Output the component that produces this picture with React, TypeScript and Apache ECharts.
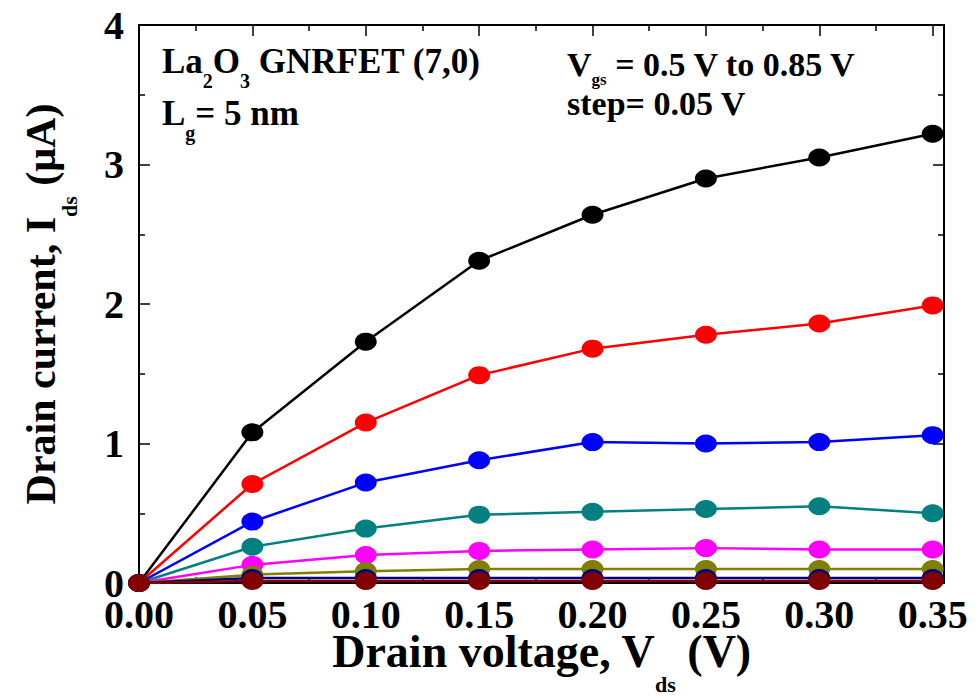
import React, { useEffect, useRef } from 'react';
import * as echarts from 'echarts';

// Drain voltage (V)
const vds = [0, 0.05, 0.1, 0.15, 0.2, 0.25, 0.3, 0.35];
// Gate voltages, top curve first
const vgsNames = ['Vgs = 0.85 V', 'Vgs = 0.80 V', 'Vgs = 0.75 V', 'Vgs = 0.70 V', 'Vgs = 0.65 V', 'Vgs = 0.60 V', 'Vgs = 0.55 V', 'Vgs = 0.50 V'];
// Drain current (uA)
const ids085 = [0, 1.08, 1.73, 2.31, 2.64, 2.9, 3.05, 3.22];
const ids080 = [0, 0.71, 1.15, 1.49, 1.68, 1.78, 1.86, 1.99];
const ids075 = [0, 0.44, 0.72, 0.88, 1.01, 1.0, 1.01, 1.06];
const ids070 = [0, 0.26, 0.39, 0.49, 0.51, 0.53, 0.55, 0.5];
const ids065 = [0, 0.13, 0.2, 0.23, 0.24, 0.25, 0.24, 0.24];
const ids060 = [0, 0.06, 0.085, 0.1, 0.1, 0.1, 0.1, 0.1];
const ids055 = [0, 0.035, 0.035, 0.035, 0.035, 0.035, 0.035, 0.035];
const ids050 = [0, 0.015, 0.015, 0.015, 0.015, 0.015, 0.015, 0.015];
const allIds = [ids085, ids080, ids075, ids070, ids065, ids060, ids055, ids050];
const colors = ['#000000', '#ff0000', '#0000ff', '#008080', '#ff00ff', '#808000', '#000080', '#800000'];

const FONT = '"Liberation Serif", "Times New Roman", serif';

export default function App() {
  const ref = useRef<HTMLDivElement>(null);
  useEffect(() => {
    if (!ref.current) return;
    const chart = echarts.init(ref.current, undefined, { renderer: 'svg' });
    const axisLine = { show: true, onZero: false, lineStyle: { color: '#000', width: 2 } };
    const tick = { show: true, inside: true, length: 11, lineStyle: { color: '#000', width: 1.5 } };
    const minor = { show: true, splitNumber: 2, length: 6, lineStyle: { color: '#000', width: 1.5 } };
    const labelFont = { fontFamily: FONT, fontWeight: 'bold' as const, fontSize: 40, color: '#000' };
    const xCommon = { type: 'value' as const, min: 0, max: 0.355, interval: 0.05, splitLine: { show: false }, axisLine, axisTick: tick, minorTick: { ...minor } };
    const yCommon = { type: 'value' as const, min: 0, max: 4, interval: 1, splitLine: { show: false }, axisLine, axisTick: tick, minorTick: { ...minor } };
    const bold = { fontFamily: FONT, fontWeight: 'bold' as const, fill: '#000' };
    chart.setOption({
      animation: false,
      backgroundColor: '#fff',
      grid: { left: 139, top: 25, width: 805, height: 558, containLabel: false, outerBoundsMode: 'none' },
      xAxis: [
        {
          ...xCommon,
          position: 'bottom',
          axisLabel: {
            ...labelFont,
            margin: 11,
            formatter: (v: number) => (Math.abs(v * 20 - Math.round(v * 20)) < 1e-6 ? v.toFixed(2) : ''),
          },
          name: 'Drain voltage, V{sub|ds} (V)',
          nameLocation: 'middle',
          nameGap: 24,
          nameMoveOverlap: false,
          nameTextStyle: {
            fontFamily: FONT, fontWeight: 'bold', fontSize: 46, color: '#000',
            rich: { sub: { fontFamily: FONT, fontWeight: 'bold', fontSize: 22, color: '#000', padding: [66, 0, 0, 0] } },
          },
        },
        { ...xCommon, position: 'top', axisLabel: { show: false } },
      ],
      yAxis: [
        {
          ...yCommon,
          position: 'left',
          axisLabel: { ...labelFont, margin: 15, formatter: (v: number) => String(v) },
          name: 'Drain current, I{sub|ds} (μA)',
          nameLocation: 'middle',
          nameGap: 59,
          nameRotate: 90,
          nameMoveOverlap: false,
          nameTextStyle: {
            fontFamily: FONT, fontWeight: 'bold', fontSize: 42, color: '#000',
            rich: { sub: { fontFamily: FONT, fontWeight: 'bold', fontSize: 22, color: '#000', padding: [56, 0, 0, 0] } },
          },
        },
        { ...yCommon, position: 'right', axisLabel: { show: false } },
      ],
      graphic: [
        {
          type: 'text', left: 162, top: 44,
          style: {
            text: 'La{s|2}O{s|3} GNRFET (7,0)',
            ...bold, fontSize: 35,
            rich: { s: { ...bold, fontSize: 20, padding: [38, 0, 0, 0] } },
          },
        },
        {
          type: 'text', left: 162, top: 96,
          style: {
            text: 'L{s|g}= 5 nm',
            ...bold, fontSize: 35,
            rich: { s: { ...bold, fontSize: 20, padding: [38, 0, 0, 0] } },
          },
        },
        {
          type: 'text', left: 567, top: 47,
          style: {
            text: 'V{s|gs} = 0.5 V to 0.85 V',
            ...bold, fontSize: 34,
            rich: { s: { ...bold, fontSize: 17, padding: [30, 0, 0, 0] } },
          },
        },
        {
          type: 'text', left: 567, top: 86,
          style: { text: 'step= 0.05 V', ...bold, fontSize: 34 },
        },
      ],
      series: allIds.map((ids, i) => ({
        name: vgsNames[i],
        type: 'line',
        xAxisIndex: 0,
        yAxisIndex: 0,
        data: vds.map((x, j) => [x, ids[j]]),
        symbol: 'circle',
        symbolSize: [22, 18],
        showAllSymbol: true,
        clip: true,
        lineStyle: { color: colors[i], width: 2.5 },
        itemStyle: { color: colors[i] },
        z: 2 + i,
      })),
    });
    return () => chart.dispose();
  }, []);
  return <div ref={ref} style={{ position: 'fixed', left: 0, top: 0, width: 976, height: 696 }} />;
}
